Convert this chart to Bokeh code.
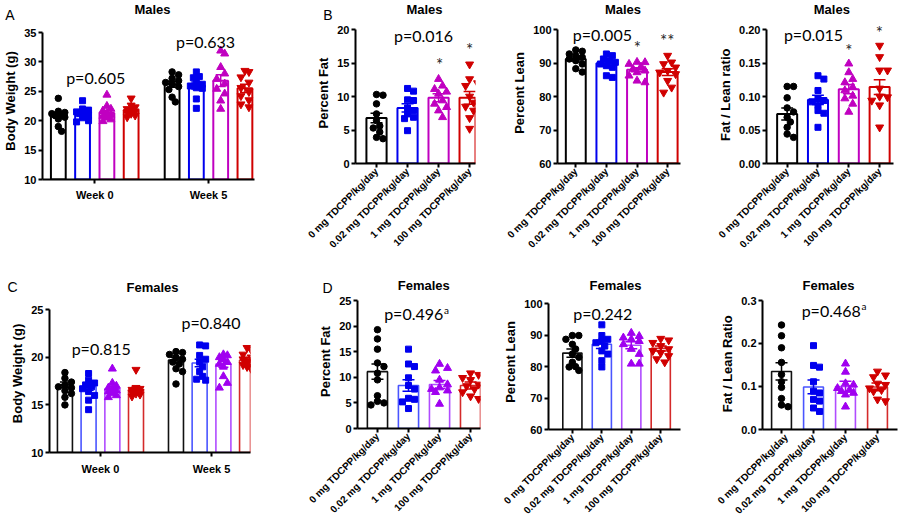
import math
from bokeh.plotting import figure
from bokeh.models import Range1d, FixedTicker, Label, NumeralTickFormatter
from bokeh.layouts import row, column
from bokeh.embed import file_html
from bokeh.resources import INLINE

# ---------------- data ----------------
dose_labels = ["0 mg TDCPP/kg/day", "0.02 mg TDCPP/kg/day", "1 mg TDCPP/kg/day", "100 mg TDCPP/kg/day"]
week_labels = ["Week 0", "Week 5"]
panel_letters = ["A", "B", "C", "D"]
sex_titles = ["Males", "Females"]

# A: males body weight (g)
male_bw_wk0_mean = [20.9, 21.3, 21.3, 21.8]
male_bw_wk0_sem = [0.5, 0.35, 0.4, 0.3]
male_bw_wk0_pts = [
    [23.8, 21.6, 21.4, 21.2, 21.0, 20.9, 20.6, 20.3, 19.0, 18.2],
    [23.4, 22.0, 21.8, 21.5, 21.4, 21.2, 20.9, 20.5, 20.0, 19.8],
    [24.4, 22.5, 22.0, 21.7, 21.3, 21.0, 20.8, 20.5, 20.2, 19.9],
    [23.8, 22.6, 22.3, 22.0, 21.8, 21.6, 21.4, 21.2, 20.9, 20.6],
]
male_bw_wk5_mean = [26.2, 26.0, 26.8, 25.5]
male_bw_wk5_sem = [0.5, 0.6, 1.0, 0.7]
male_bw_wk5_pts = [
    [28.3, 27.8, 27.2, 26.8, 26.5, 26.2, 25.8, 25.3, 24.0, 23.2],
    [28.3, 27.3, 27.5, 26.5, 26.2, 25.9, 25.5, 25.6, 23.7, 22.1],
    [31.9, 31.4, 29.1, 28.0, 27.1, 26.3, 25.4, 24.6, 23.4, 22.0],
    [28.5, 28.3, 27.4, 26.5, 25.6, 24.9, 24.2, 23.5, 22.8, 22.3],
]
male_bw_p = ["p=0.605", "p=0.633"]

# B: males body composition
male_fat_mean = [6.8, 8.3, 9.8, 9.8]
male_fat_sem = [0.7, 0.6, 0.6, 0.95]
male_fat_pts = [
    [10.2, 10.3, 8.9, 7.4, 6.4, 5.6, 5.3, 4.7, 3.9, 3.7],
    [11.2, 10.8, 9.5, 9.4, 8.3, 7.9, 7.4, 6.9, 6.7, 4.9],
    [12.6, 11.6, 11.1, 10.7, 10.4, 9.4, 8.9, 8.4, 7.9, 6.9],
    [14.8, 12.6, 12.0, 11.6, 10.0, 9.1, 8.5, 7.9, 6.8, 5.2],
]
male_lean_mean = [91.2, 89.9, 88.0, 87.3]
male_lean_sem = [0.6, 0.65, 0.6, 1.0]
male_lean_pts = [
    [93.9, 93.5, 92.7, 92.2, 91.7, 91.2, 90.7, 89.7, 88.3, 87.3],
    [92.7, 92.2, 91.2, 90.7, 90.2, 89.7, 89.2, 88.7, 86.2, 85.7],
    [90.3, 90.2, 89.7, 88.9, 88.2, 87.7, 87.2, 86.2, 84.7, 84.2],
    [92.2, 90.2, 89.7, 88.7, 87.7, 87.2, 86.7, 84.7, 82.7, 81.2],
]
male_ratio_mean = [0.074, 0.095, 0.111, 0.114]
male_ratio_sem = [0.009, 0.007, 0.007, 0.011]
male_ratio_pts = [
    [0.115, 0.115, 0.098, 0.083, 0.077, 0.069, 0.062, 0.054, 0.044, 0.039],
    [0.131, 0.126, 0.109, 0.097, 0.094, 0.092, 0.087, 0.079, 0.075, 0.054],
    [0.149, 0.136, 0.126, 0.121, 0.114, 0.109, 0.101, 0.097, 0.089, 0.077],
    [0.176, 0.159, 0.139, 0.139, 0.112, 0.100, 0.099, 0.094, 0.087, 0.054],
]
male_comp_p = ["p=0.016", "p=0.005", "p=0.015"]
male_fat_stars = ["", "", "*", "*"]
male_lean_stars = ["", "", "*", "**"]
male_ratio_stars = ["", "", "*", "*"]

# C: females body weight (g)
female_bw_wk0_mean = [17.1, 16.9, 16.7, 16.6]
female_bw_wk0_sem = [0.3, 0.35, 0.25, 0.25]
female_bw_wk0_pts = [
    [18.4, 17.8, 17.4, 17.1, 16.9, 16.8, 16.5, 16.2, 15.8, 15.0],
    [18.3, 17.6, 17.3, 17.1, 16.9, 16.7, 16.4, 16.0, 15.5, 14.5],
    [18.8, 17.3, 17.0, 16.8, 16.6, 16.5, 16.4, 16.2, 16.0, 15.8],
    [18.7, 16.8, 16.7, 16.6, 16.5, 16.4, 16.3, 16.2, 16.1, 15.9],
]
female_bw_wk5_mean = [19.7, 19.4, 19.3, 19.7]
female_bw_wk5_sem = [0.3, 0.4, 0.35, 0.25]
female_bw_wk5_pts = [
    [20.6, 20.5, 20.3, 20.0, 19.8, 19.5, 19.3, 18.8, 18.5, 17.2],
    [21.3, 21.2, 20.2, 19.8, 19.5, 19.0, 18.5, 18.0, 17.7, 17.6],
    [20.3, 20.2, 20.0, 19.8, 19.5, 19.3, 19.0, 18.0, 17.3, 16.8],
    [21.0, 20.8, 20.3, 20.0, 19.8, 19.6, 19.4, 19.2, 19.0, 18.8],
]
female_bw_p = ["p=0.815", "p=0.840"]

# D: females body composition
female_fat_mean = [11.1, 8.4, 8.6, 8.4]
female_fat_sem = [1.5, 1.1, 0.8, 0.7]
female_fat_pts = [
    [19.3, 17.5, 15.5, 12.8, 12.1, 10.8, 9.5, 6.4, 5.3, 5.0, 4.6],
    [15.5, 12.6, 12.1, 9.9, 8.4, 7.7, 5.9, 5.7, 5.2, 3.9],
    [12.6, 11.8, 11.3, 9.5, 8.6, 8.0, 7.7, 7.4, 7.1, 4.8],
    [10.8, 10.5, 9.9, 9.5, 8.6, 8.3, 7.7, 7.1, 6.3, 5.8],
]
female_lean_mean = [84.3, 87.1, 86.8, 85.8]
female_lean_sem = [1.3, 1.3, 1.1, 0.8]
female_lean_pts = [
    [89.9, 89.9, 88.7, 87.1, 85.6, 84.0, 83.0, 81.4, 80.0, 79.9, 78.8],
    [93.3, 89.9, 88.7, 88.1, 87.6, 86.6, 85.0, 84.0, 81.9, 79.9],
    [90.7, 89.7, 89.2, 88.7, 88.1, 87.1, 85.6, 84.0, 80.9, 80.9],
    [88.9, 88.4, 87.6, 86.6, 85.6, 85.0, 84.4, 83.4, 82.4, 81.4],
]
female_ratio_mean = [0.135, 0.099, 0.100, 0.099]
female_ratio_sem = [0.02, 0.016, 0.012, 0.009]
female_ratio_pts = [
    [0.243, 0.218, 0.190, 0.156, 0.128, 0.111, 0.098, 0.072, 0.057, 0.053],
    [0.195, 0.149, 0.145, 0.111, 0.089, 0.085, 0.070, 0.066, 0.050, 0.042],
    [0.153, 0.134, 0.107, 0.104, 0.096, 0.092, 0.089, 0.085, 0.081, 0.053],
    [0.135, 0.126, 0.122, 0.107, 0.104, 0.096, 0.092, 0.089, 0.070, 0.066],
]
female_comp_p = ["p=0.496", "p=0.242", "p=0.468"]

# ---------------- styling ----------------
MARKERS = ["circle", "square", "triangle", "inverted_triangle"]
MSIZE = [6.5, 6, 8, 8]
MALE_PT = ["#000000", "#0000ee", "#c000c0", "#d00000"]
MALE_BAR = ["#000000", "#0000ee", "#c000c0", "#d00000"]
FEM_PT = ["#000000", "#0000ee", "#a000f0", "#d00000"]
FEM_BAR = ["#111111", "#4a55ff", "#b04cff", "#d42a2a"]
BOLD = "Liberation Sans"
PFONT = "Lato"


def swarm(vals, xc, xpx, ypx, size, maxoff):
    cands = [0.0]
    k = 1
    step = size * 0.5
    while k * step <= maxoff + 1e-9:
        cands += [k * step, -k * step]
        k += 1
    placed = []
    xs = [0.0] * len(vals)
    order = sorted(range(len(vals)), key=lambda i: -vals[i])
    for i in order:
        yp = vals[i] * ypx
        choice, bestc, bestd = None, 0.0, -1.0
        for c in cands:
            d = min((math.hypot(c - a, yp - b) for a, b in placed), default=1e9)
            if d >= size * 0.85:
                choice = c
                break
            if d > bestd:
                bestd, bestc = d, c
        if choice is None:
            choice = bestc
        placed.append((choice, yp))
        xs[i] = xc + choice / xpx
    return xs


class Geo:
    """canvas (cx, cy, W, H) and axis geometry in page pixels"""
    def __init__(self, cx, cy, W, H, fl, fr, ttop, fb, xr, ylo, yhi):
        self.cx, self.cy, self.W, self.H = cx, cy, W, H
        self.fl, self.fr, self.fb = fl, fr, fb
        self.xr = xr
        self.xpx = (fr - fl) / (xr[1] - xr[0])
        self.ypx = (fb - ttop) / (yhi - ylo)
        self.ylo, self.yhi = ylo, yhi
        self.yr = (ylo, yhi + (ttop - cy) / self.ypx)

    def data(self, x_img, y_img):
        return (self.xr[0] + (x_img - self.fl) / self.xpx,
                self.ylo + (self.fb - y_img) / self.ypx)


def make_panel(g, yticks, ylabel, xticks, xlabels, rotate, yfmt=None, xstand=2):
    p = figure(width=g.W, height=g.H, x_range=Range1d(*g.xr), y_range=Range1d(*g.yr),
               output_backend="svg", toolbar_location=None, frame_align=False,
               min_border_left=int(round(g.fl - g.cx)), min_border_right=int(round(g.cx + g.W - g.fr)),
               min_border_top=0, min_border_bottom=int(round(g.cy + g.H - g.fb)))
    p.grid.visible = False
    p.outline_line_color = None
    p.background_fill_color = "white"
    p.border_fill_color = "white"
    for ax in (p.xaxis[0], p.yaxis[0]):
        ax.axis_line_width = 2
        ax.axis_line_color = "black"
        ax.major_tick_line_width = 2
        ax.major_tick_line_color = "black"
        ax.major_tick_out = 4
        ax.major_tick_in = 0
        ax.minor_tick_out = 0
        ax.minor_tick_in = 0
        ax.major_label_text_font = BOLD
        ax.major_label_text_font_style = "bold"
        ax.major_label_text_color = "black"
    ya = p.yaxis[0]
    ya.ticker = FixedTicker(ticks=yticks)
    ya.bounds = (g.ylo, g.yhi)
    ya.major_label_text_font_size = "11px"
    ya.major_label_standoff = 2
    ya.axis_label = ylabel
    ya.axis_label_text_font = BOLD
    ya.axis_label_text_font_style = "bold"
    ya.axis_label_text_font_size = "13px"
    ya.axis_label_text_color = "black"
    ya.axis_label_standoff = 3
    if yfmt:
        ya.formatter = NumeralTickFormatter(format=yfmt)
    xa = p.xaxis[0]
    xa.ticker = FixedTicker(ticks=xticks)
    xa.major_label_overrides = {t: lab for t, lab in zip(xticks, xlabels)}
    xa.major_label_standoff = xstand
    if rotate:
        xa.major_label_orientation = math.pi / 4
        xa.major_label_text_font_size = "10px"
    else:
        xa.major_label_text_font_size = "11px"
    return p


def put(p, g, x_img, y_img, text, font=PFONT, size=16, bold=False, color="black", align="center"):
    x, y = g.data(x_img, y_img)
    p.add_layout(Label(x=x, y=y, text=text, text_font=font, text_font_size=f"{size}px",
                       text_font_style="bold" if bold else "normal", text_color=color,
                       text_align=align, text_baseline="middle"))


def draw_groups(p, g, centers, means, sems, pts, pcols, bcols, bw, bar_lw, cap_px, maxoff):
    p.vbar(x=centers, top=means, bottom=g.ylo, width=bw, fill_color="white",
           line_color=bcols, line_width=bar_lw)
    for i in range(len(centers)):
        xs = swarm(pts[i], centers[i], g.xpx, g.ypx, MSIZE[i], maxoff)
        p.scatter(x=xs, y=pts[i], marker=MARKERS[i], size=MSIZE[i],
                  fill_color=pcols[i], line_color=pcols[i])
    cap = cap_px / g.xpx
    lo = [m - s for m, s in zip(means, sems)]
    hi = [m + s for m, s in zip(means, sems)]
    p.segment(x0=centers, y0=lo, x1=centers, y1=hi, line_color=pcols, line_width=1.5)
    p.segment(x0=[c - cap for c in centers], y0=hi, x1=[c + cap for c in centers], y1=hi,
              line_color=pcols, line_width=1.5)
    p.segment(x0=[c - cap for c in centers], y0=lo, x1=[c + cap for c in centers], y1=lo,
              line_color=pcols, line_width=1.5)


def header(top, height, items):
    h = figure(width=902, height=height, x_range=Range1d(0, 902), y_range=Range1d(0, height),
               output_backend="svg", toolbar_location=None, frame_align=False,
               x_axis_type=None, y_axis_type=None,
               min_border_left=0, min_border_right=0, min_border_top=0, min_border_bottom=0)
    h.outline_line_color = None
    h.background_fill_color = "white"
    h.border_fill_color = "white"
    for x_img, y_img, text, font, size, bold in items:
        h.add_layout(Label(x=x_img, y=top + height - y_img, text=text, text_font=font,
                           text_font_size=f"{size}px", text_font_style="bold" if bold else "normal",
                           text_color="black", text_align="center", text_baseline="middle"))
    return h


OFFS = [-0.32, -0.107, 0.107, 0.32]
XT = [0, 1, 2, 3]
STAR = "#262626"

# ---------------- top row ----------------
gA = Geo(0, 22, 290, 250, 41.7, 254, 32, 179, (-0.459, 1.404), 10, 35)
pA = make_panel(gA, [10, 15, 20, 25, 30, 35], "Body Weight (g)", [0, 1], week_labels, False, xstand=5)
draw_groups(pA, gA, [0 + o for o in OFFS], male_bw_wk0_mean, male_bw_wk0_sem, male_bw_wk0_pts,
            MALE_PT, MALE_BAR, 0.13, 2, 5, 7)
draw_groups(pA, gA, [1 + o for o in OFFS], male_bw_wk5_mean, male_bw_wk5_sem, male_bw_wk5_pts,
            MALE_PT, MALE_BAR, 0.13, 2, 5, 7)
put(pA, gA, 95, 76.5, male_bw_p[0])
put(pA, gA, 205, 40.5, male_bw_p[1])

gB1 = Geo(290, 22, 210, 250, 355, 475, 29, 163, (-0.677, 3.19), 0, 20)
pB1 = make_panel(gB1, [0, 5, 10, 15, 20], "Percent Fat", XT, dose_labels, True)
draw_groups(pB1, gB1, XT, male_fat_mean, male_fat_sem, male_fat_pts, MALE_PT, MALE_BAR, 0.65, 2, 6, 9)
put(pB1, gB1, 423, 35, male_comp_p[0])
for xi, (xim, yim) in enumerate([(376, 0), (408, 0), (439, 64), (469, 49)]):
    if male_fat_stars[xi]:
        put(pB1, gB1, xim, yim, male_fat_stars[xi], PFONT, 17, False, STAR)

gB2 = Geo(500, 22, 215, 250, 556.7, 680, 29, 163, (-0.597, 3.42), 60, 100)
pB2 = make_panel(gB2, [60, 70, 80, 90, 100], "Percent Lean", XT, dose_labels, True)
draw_groups(pB2, gB2, XT, male_lean_mean, male_lean_sem, male_lean_pts, MALE_PT, MALE_BAR, 0.65, 2, 6, 9)
put(pB2, gB2, 601.7, 33.5, male_comp_p[1])
for xi, (xim, yim) in enumerate([(575, 0), (606, 0), (636.7, 47), (666.7, 40)]):
    if male_lean_stars[xi]:
        put(pB2, gB2, xim, yim, male_lean_stars[xi], PFONT, 17, False, STAR)

gB3 = Geo(715, 22, 187, 250, 764, 893, 29, 163, (-0.67, 3.45), 0, 0.2)
pB3 = make_panel(gB3, [0, 0.05, 0.10, 0.15, 0.20], "Fat / Lean  ratio", XT, dose_labels, True, yfmt="0.00")
draw_groups(pB3, gB3, XT, male_ratio_mean, male_ratio_sem, male_ratio_pts, MALE_PT, MALE_BAR, 0.65, 2, 6, 9)
put(pB3, gB3, 811.7, 33.5, male_comp_p[2])
for xi, (xim, yim) in enumerate([(785, 0), (816, 0), (847.7, 49.5), (878.7, 31.5)]):
    if male_ratio_stars[xi]:
        put(pB3, gB3, xim, yim, male_ratio_stars[xi], PFONT, 17, False, STAR)

# ---------------- bottom row ----------------
gC = Geo(0, 294, 290, 228, 49, 250, 309.2, 451.7, (-0.459, 1.351), 10, 25)
pC = make_panel(gC, [10, 15, 20, 25], "Body Weight (g)", [0, 1], week_labels, False, xstand=6)
draw_groups(pC, gC, [0 + o for o in OFFS], female_bw_wk0_mean, female_bw_wk0_sem, female_bw_wk0_pts,
            FEM_PT, FEM_BAR, 0.135, 1.6, 5, 7)
draw_groups(pC, gC, [1 + o for o in OFFS], female_bw_wk5_mean, female_bw_wk5_sem, female_bw_wk5_pts,
            FEM_PT, FEM_BAR, 0.135, 1.6, 5, 7)
put(pC, gC, 100.7, 348, female_bw_p[0])
put(pC, gC, 210.5, 321.5, female_bw_p[1])

gD1 = Geo(290, 294, 210, 228, 356.7, 480, 300, 427.7, (-0.643, 3.32), 0, 25)
pD1 = make_panel(gD1, [0, 5, 10, 15, 20, 25], "Percent Fat", XT, dose_labels, True)
draw_groups(pD1, gD1, XT, female_fat_mean, female_fat_sem, female_fat_pts, FEM_PT, FEM_BAR, 0.65, 1.6, 6, 9)
put(pD1, gD1, 442.7, 313.3, female_comp_p[0], align="right")
put(pD1, gD1, 443.5, 309.5, "a", PFONT, 10, align="left")

gD2 = Geo(500, 294, 215, 228, 547, 680, 303.5, 432.3, (-0.81, 3.67), 60, 100)
pD2 = make_panel(gD2, [60, 70, 80, 90, 100], "Percent Lean", XT, dose_labels, True)
draw_groups(pD2, gD2, XT, female_lean_mean, female_lean_sem, female_lean_pts, FEM_PT, FEM_BAR, 0.65, 1.6, 6, 9)
put(pD2, gD2, 601.7, 313, female_comp_p[1])

gD3 = Geo(715, 294, 187, 228, 761.7, 896.7, 300, 429.3, (-0.594, 3.625), 0, 0.3)
pD3 = make_panel(gD3, [0, 0.1, 0.2, 0.3], "Fat / Lean  Ratio", XT, dose_labels, True, yfmt="0.0")
draw_groups(pD3, gD3, XT, female_ratio_mean, female_ratio_sem, female_ratio_pts, FEM_PT, FEM_BAR, 0.62, 1.6, 6, 9)
put(pD3, gD3, 860, 310, female_comp_p[2], align="right")
put(pD3, gD3, 860.8, 306, "a", PFONT, 10, align="left")

# ---------------- headers (panel letters and titles) ----------------
h1 = header(0, 22, [
    (9.5, 14.5, panel_letters[0], BOLD, 14, False),
    (152, 8.5, sex_titles[0], BOLD, 13, True),
    (327.5, 14.5, panel_letters[1], BOLD, 14, False),
    (424, 8.5, sex_titles[0], BOLD, 13, True),
    (622.5, 8.5, sex_titles[0], BOLD, 13, True),
    (831.3, 8.5, sex_titles[0], BOLD, 13, True),
])
h2 = header(272, 22, [
    (12, 286.5, panel_letters[2], BOLD, 14, False),
    (152, 287, sex_titles[1], BOLD, 13, True),
    (327, 287, panel_letters[3], BOLD, 14, False),
    (423.3, 285, sex_titles[1], BOLD, 13, True),
    (615, 284.5, sex_titles[1], BOLD, 13, True),
    (828, 284.5, sex_titles[1], BOLD, 13, True),
])

layout = column(h1, row(pA, pB1, pB2, pB3), h2, row(pC, pD1, pD2, pD3))
open("out.html", "w").write(file_html(layout, INLINE))
